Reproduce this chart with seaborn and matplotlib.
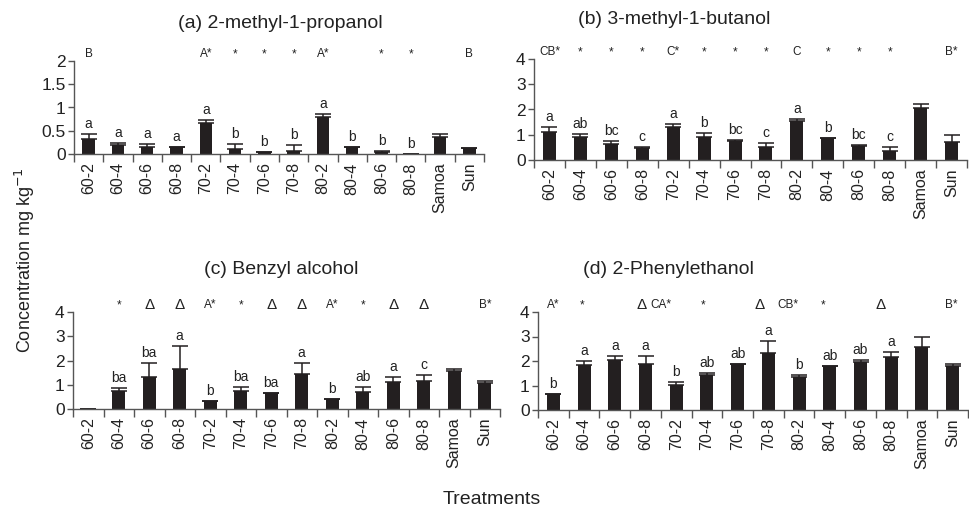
import numpy as np
import pandas as pd
import matplotlib
matplotlib.use("Agg")
import matplotlib.pyplot as plt
import seaborn as sns

# Treatment codes (temperature-time) plus two commercial references
treatments = ["60-2", "60-4", "60-6", "60-8", "70-2", "70-4", "70-6", "70-8",
              "80-2", "80-4", "80-6", "80-8", "Samoa", "Sun"]

# (a) 2-methyl-1-propanol
propanol_mean = [0.33, 0.20, 0.16, 0.14, 0.67, 0.11, 0.04, 0.07, 0.79, 0.14, 0.05, 0.00, 0.37, 0.13]
propanol_err = [0.11, 0.04, 0.05, 0.00, 0.06, 0.10, 0.01, 0.12, 0.07, 0.00, 0.01, 0.00, 0.07, 0.00]
propanol_letters = ["a", "a", "a", "a", "a", "b", "b", "b", "a", "b", "b", "b", "", ""]
propanol_marks = ["B", "", "", "", "A*", "*", "*", "*", "A*", "", "*", "*", "", "B"]

# (b) 3-methyl-1-butanol
butanol_mean = [1.12, 0.93, 0.64, 0.46, 1.30, 0.92, 0.77, 0.50, 1.55, 0.88, 0.57, 0.34, 2.07, 0.73]
butanol_err = [0.20, 0.09, 0.10, 0.05, 0.12, 0.15, 0.03, 0.16, 0.08, 0.00, 0.03, 0.18, 0.13, 0.26]
butanol_letters = ["a", "ab", "bc", "c", "a", "b", "bc", "c", "a", "b", "bc", "c", "", ""]
butanol_marks = ["CB*", "*", "*", "*", "C*", "*", "*", "*", "C", "*", "*", "*", "", "B*"]

# (c) Benzyl alcohol
benzyl_mean = [0.01, 0.75, 1.34, 1.67, 0.31, 0.75, 0.65, 1.45, 0.42, 0.70, 1.12, 1.17, 1.55, 1.07]
benzyl_err = [0.00, 0.10, 0.57, 0.94, 0.00, 0.16, 0.02, 0.46, 0.00, 0.21, 0.20, 0.22, 0.09, 0.08]
benzyl_letters = ["", "ba", "ba", "a", "b", "ba", "ba", "a", "b", "ab", "a", "c", "", ""]
benzyl_marks = ["", "*", "Δ", "Δ", "A*", "*", "Δ", "Δ", "A*", "*", "Δ", "Δ", "", "B*"]

# (d) 2-Phenylethanol
phenyl_mean = [0.65, 1.83, 2.03, 1.87, 1.02, 1.42, 1.87, 2.32, 1.34, 1.80, 1.95, 2.16, 2.56, 1.80]
phenyl_err = [0.00, 0.15, 0.17, 0.33, 0.11, 0.07, 0.01, 0.49, 0.07, 0.00, 0.08, 0.21, 0.44, 0.08]
phenyl_letters = ["b", "a", "a", "a", "b", "ab", "ab", "a", "b", "ab", "ab", "a", "", ""]
phenyl_marks = ["A*", "*", "", "Δ", "CA*", "*", "", "Δ", "CB*", "*", "", "Δ", "", "B*"]

sns.set_style("ticks")
plt.rcParams["font.family"] = ["Liberation Sans", "DejaVu Sans"]

BAR = "#231f20"
AXIS = "#555555"
TEXT = "#222222"

fig = plt.figure(figsize=(9.69, 5.11), dpi=100)

panels = [
    dict(title="(a) 2-methyl-1-propanol", mean=propanol_mean, err=propanol_err,
         letters=propanol_letters, marks=propanol_marks,
         ymax=2, yticks=[0, 0.5, 1, 1.5, 2], ylabels=["0", "0.5", "1", "1.5", "2"],
         rect=[74 / 969, 1 - 154 / 511, 410 / 969, 93 / 511], title_xy=(280, 24),
         nudge=[0] * 14),
    dict(title="(b) 3-methyl-1-butanol", mean=butanol_mean, err=butanol_err,
         letters=butanol_letters, marks=butanol_marks,
         ymax=4, yticks=[0, 1, 2, 3, 4], ylabels=["0", "1", "2", "3", "4"],
         rect=[534 / 969, 1 - 160 / 511, 433 / 969, 101 / 511], title_xy=(674, 19),
         nudge=[0] * 14),
    dict(title="(c) Benzyl alcohol", mean=benzyl_mean, err=benzyl_err,
         letters=benzyl_letters, marks=benzyl_marks,
         ymax=4, yticks=[0, 1, 2, 3, 4], ylabels=["0", "1", "2", "3", "4"],
         rect=[73 / 969, 1 - 409 / 511, 427 / 969, 97 / 511], title_xy=(281, 269),
         nudge=[0] * 14),
    dict(title="(d) 2-Phenylethanol", mean=phenyl_mean, err=phenyl_err,
         letters=phenyl_letters, marks=phenyl_marks,
         ymax=4, yticks=[0, 1, 2, 3, 4], ylabels=["0", "1", "2", "3", "4"],
         rect=[538 / 969, 1 - 410 / 511, 430 / 969, 98 / 511], title_xy=(668, 269),
         nudge=[0, -0.05, 0, -0.13, -0.49, -0.11, 0, -0.27, -0.36, -0.22, 0, -0.33, 0, -0.05]),
]

n = len(treatments)
pos = np.arange(n)

for p in panels:
    ax = fig.add_axes(p["rect"])
    df = pd.DataFrame({"Treatment": treatments, "Concentration": p["mean"]})
    sns.barplot(data=df, x="Treatment", y="Concentration", color=BAR, saturation=1,
                width=0.42, linewidth=0, errorbar=None, ax=ax)
    err = np.asarray(p["err"])
    ax.errorbar(pos, p["mean"], yerr=[np.zeros(n), err], fmt="none",
                ecolor=BAR, elinewidth=1.1, capsize=5.5, capthick=1.1)

    ax.set_xlim(-0.5, n - 0.5)
    ax.set_ylim(0, p["ymax"])
    ax.set_xlabel("")
    ax.set_ylabel("")

    # boundary ticks between treatments, labels centred under bars
    ax.set_xticks(np.arange(n + 1) - 0.5)
    ax.set_xticklabels([])
    ax.set_xticks(pos, minor=True)
    ax.set_xticklabels(treatments, minor=True, rotation=90, fontsize=11.5, color=TEXT)
    ax.tick_params(axis="x", which="major", length=6, width=1, color=AXIS, direction="out")
    ax.tick_params(axis="x", which="minor", length=0, pad=6)

    ax.set_yticks(p["yticks"])
    ax.set_yticklabels(p["ylabels"], fontsize=12.5, color=TEXT)
    ax.tick_params(axis="y", length=4, width=1, color=AXIS, pad=2, direction="out")

    for side in ("top", "right"):
        ax.spines[side].set_visible(False)
    for side in ("left", "bottom"):
        ax.spines[side].set_color(AXIS)
        ax.spines[side].set_linewidth(1)

    # significance letters above each bar
    tops = np.asarray(p["mean"]) + err
    for i, lab in enumerate(p["letters"]):
        if lab:
            ax.annotate(lab, xy=(i, tops[i]), xytext=(0, 3), textcoords="offset pixels",
                        ha="center", va="bottom", fontsize=10, color=TEXT)

    # group comparison marks along the top
    for i, mk in enumerate(p["marks"]):
        if mk:
            size = 11 if mk == "Δ" else 8.5
            ax.annotate(mk, xy=(i + p["nudge"][i], 1), xycoords=("data", "axes fraction"),
                        xytext=(0, 7), textcoords="offset pixels",
                        ha="center", va="center", fontsize=size, color=TEXT)

    tx, ty = p["title_xy"]
    fig.text(tx / 969, 1 - ty / 511, p["title"], ha="center", va="center",
             fontsize=14, color=TEXT)

fig.text(25 / 969, 0.49, "Concentration mg kg$^{-1}$", rotation=90,
         ha="center", va="center", fontsize=13, color=TEXT)
fig.text(492 / 969, 1 - 500 / 511, "Treatments", ha="center", va="center",
         fontsize=14, color=TEXT)

fig.savefig("out.png", dpi=100)
